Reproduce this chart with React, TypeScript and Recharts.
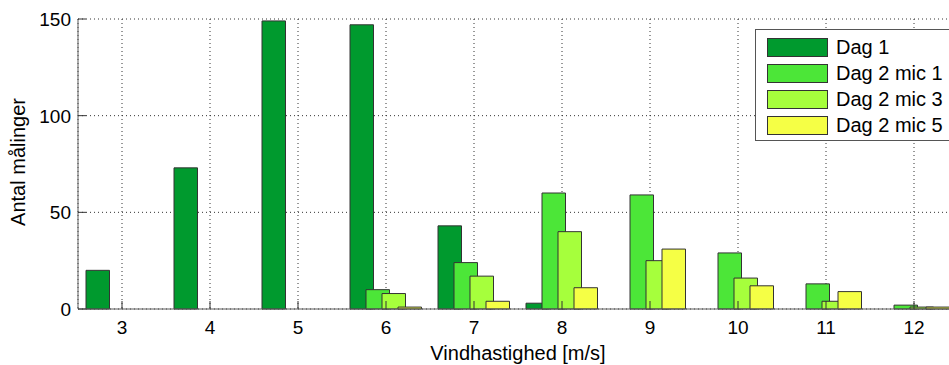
import React from 'react';
import { BarChart, Bar, XAxis, YAxis, CartesianGrid, Legend, ReferenceLine } from 'recharts';

const categories = ['3', '4', '5', '6', '7', '8', '9', '10', '11', '12'];
const dag1 = [20, 73, 149, 147, 43, 3, 0, 0, 0, 0];
const dag2mic1 = [0, 0, 0, 10, 24, 60, 59, 29, 13, 2];
const dag2mic3 = [0, 0, 0, 8, 17, 40, 25, 16, 4, 1];
const dag2mic5 = [0, 0, 0, 1, 4, 11, 31, 12, 9, 1];
const yTicks = [0, 50, 100, 150];
const seriesKeys = ['d1', 'm1', 'm3', 'm5'];
const seriesNames = ['Dag 1', 'Dag 2 mic 1', 'Dag 2 mic 3', 'Dag 2 mic 5'];
const seriesColors = ['#009A2E', '#4CE638', '#A6FF3C', '#F5FF45'];
const xLabel = 'Vindhastighed [m/s]';
const yLabel = 'Antal målinger';

const data = categories.map((c, i) => ({
  cat: c,
  d1: dag1[i],
  m1: dag2mic1[i],
  m3: dag2mic3[i],
  m5: dag2mic5[i],
}));

const FONT = '"Liberation Sans", Arial, Helvetica, sans-serif';
const AXIS_COLOR = '#5a5a5a';
const TICK_LEN = 8;

const BottomTick = (props: any) => {
  const { x, y, payload } = props;
  return (
    <g>
      <line x1={x} x2={x} y1={y} y2={y - TICK_LEN} stroke="#333" strokeWidth={1} />
      <text x={x} y={y + 25} textAnchor="middle" fill="#000" fontSize={19} fontFamily={FONT}>
        {payload.value}
      </text>
    </g>
  );
};

const TopTick = (props: any) => {
  const { x, y } = props;
  return <line x1={x} x2={x} y1={y} y2={y + TICK_LEN} stroke="#333" strokeWidth={1} />;
};

const LeftTick = (props: any) => {
  const { x, y, payload } = props;
  return (
    <g>
      <line x1={x} x2={x + TICK_LEN} y1={y} y2={y} stroke="#333" strokeWidth={1} />
      <text x={x - 7} y={y} dy="0.36em" textAnchor="end" fill="#000" fontSize={19} fontFamily={FONT}>
        {payload.value}
      </text>
    </g>
  );
};

const LegendBox = (props: any) => {
  const payload = props.payload || [];
  return (
    <div
      style={{
        width: 210,
        height: 112,
        boxSizing: 'border-box',
        border: '1px solid #555',
        background: '#fff',
        paddingTop: 4,
        fontFamily: FONT,
      }}
    >
      {payload.map((entry: any) => (
        <div key={entry.value} style={{ display: 'flex', alignItems: 'center', height: 26 }}>
          <div
            style={{
              marginLeft: 11,
              width: 61,
              height: 19,
              boxSizing: 'border-box',
              background: entry.color,
              border: '1px solid #333',
            }}
          />
          <span style={{ marginLeft: 8, fontSize: 20, lineHeight: '19px', color: '#000', whiteSpace: 'nowrap' }}>
            {entry.value}
          </span>
        </div>
      ))}
    </div>
  );
};

export default function App() {
  return (
    <div
      style={{
        position: 'absolute',
        left: 0,
        top: 0,
        width: 949,
        height: 365,
        overflow: 'hidden',
        background: '#fff',
      }}
    >
      <BarChart
        width={968}
        height={365}
        data={data}
        margin={{ top: 19, right: 10, left: 0, bottom: 0 }}
        barSize={23.5}
        barGap={-7.5}
        style={{ fontFamily: FONT }}
      >
        <CartesianGrid stroke="#333" strokeDasharray="1 3" />
        <XAxis
          dataKey="cat"
          height={56}
          tickSize={0}
          tickMargin={0}
          tickLine={false}
          tick={<BottomTick />}
          interval={0}
          axisLine={{ stroke: AXIS_COLOR, strokeWidth: 1 }}
          label={{
            content: (p: any) => {
              const vb = p.viewBox || {};
              return (
                <text
                  x={vb.x + vb.width / 2}
                  y={vb.y + 51}
                  textAnchor="middle"
                  fill="#000"
                  fontSize={20}
                  fontFamily={FONT}
                >
                  {xLabel}
                </text>
              );
            },
          }}
        />
        <XAxis
          xAxisId="top"
          dataKey="cat"
          orientation="top"
          height={0}
          tickSize={0}
          tickMargin={0}
          tickLine={false}
          tick={<TopTick />}
          interval={0}
          axisLine={{ stroke: AXIS_COLOR, strokeWidth: 1 }}
        />
        <YAxis
          width={78}
          domain={[0, 150]}
          ticks={yTicks}
          interval={0}
          tickSize={0}
          tickMargin={0}
          tickLine={false}
          tick={<LeftTick />}
          axisLine={{ stroke: AXIS_COLOR, strokeWidth: 1 }}
          label={{
            content: (p: any) => {
              const vb = p.viewBox || {};
              const cx = vb.x + 18;
              const cy = vb.y + vb.height / 2 - 2;
              return (
                <text
                  x={cx}
                  y={cy}
                  transform={`rotate(-90 ${cx} ${cy})`}
                  textAnchor="middle"
                  dominantBaseline="central"
                  fill="#000"
                  fontSize={20}
                  fontFamily={FONT}
                >
                  {yLabel}
                </text>
              );
            },
          }}
        />
        <Legend
          content={<LegendBox />}
          layout="vertical"
          align="center"
          verticalAlign="middle"
          wrapperStyle={{ left: 755, top: 29, width: 210 }}
        />
        {seriesKeys.map((k, i) => (
          <Bar
            key={k}
            dataKey={k}
            name={seriesNames[i]}
            fill={seriesColors[i]}
            stroke="#333"
            strokeWidth={1}
            isAnimationActive={false}
          />
        ))}
      </BarChart>
    </div>
  );
}
